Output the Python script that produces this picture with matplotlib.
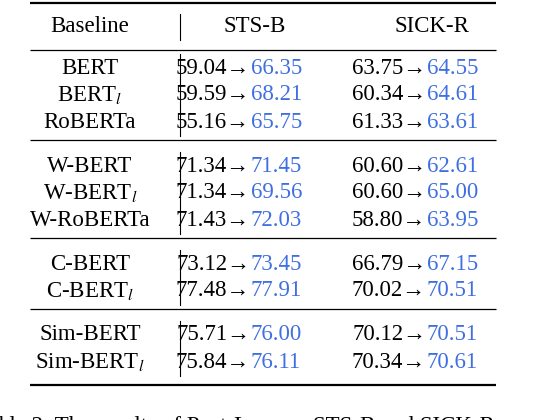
import matplotlib
matplotlib.use("Agg")
import matplotlib.pyplot as plt

plt.rcParams["font.family"] = ["Liberation Serif", "DejaVu Serif"]
plt.rcParams["mathtext.fontset"] = "stix"

groups = [
    ["BERT", r"BERT$_l$", "RoBERTa"],
    ["W-BERT", r"W-BERT$_l$", "W-RoBERTa"],
    ["C-BERT", r"C-BERT$_l$"],
    ["Sim-BERT", r"Sim-BERT$_l$"],
]
sts_before = [[59.04, 59.59, 55.16], [71.34, 71.34, 71.43], [73.12, 77.48], [75.71, 75.84]]
sts_after = [[66.35, 68.21, 65.75], [71.45, 69.56, 72.03], [73.45, 77.91], [76.00, 76.11]]
sick_before = [[63.75, 60.34, 61.33], [60.60, 60.60, 58.80], [66.79, 70.02], [70.12, 70.34]]
sick_after = [[64.55, 64.61, 63.61], [62.61, 65.00, 63.95], [67.15, 70.51], [70.51, 70.61]]

W, H = 546, 420
fig = plt.figure(figsize=(W / 100, H / 100), dpi=100)
ax = fig.add_axes([0, 0, 1, 1])
ax.set_xlim(0, W)
ax.set_ylim(H, 0)
ax.axis("off")

FS = 16.5
BLUE = "#3f6fe0"
L, R = 30, 496

def rule(y, lw):
    ax.plot([L, R], [y, y], color="black", lw=lw, solid_capstyle="butt")

rule(3, 1.6)
ax.text(90, 27, "Baseline", ha="center", va="center", fontsize=FS)
ax.text(255, 27, "STS-B", ha="center", va="center", fontsize=FS)
ax.text(432, 27, "SICK-R", ha="center", va="center", fontsize=FS)
ax.plot([180, 180], [14, 40], color="black", lw=0.8)
rule(50, 0.9)

y = 68
for gi, names in enumerate(groups):
    top = y - 14
    for i, name in enumerate(names):
        ax.text(90, y, name, ha="center", va="center", fontsize=FS)
        ax.text(250, y, f"{sts_before[gi][i]:.2f}" + "\u2192", ha="right", va="center", fontsize=FS)
        ax.text(251, y, f"{sts_after[gi][i]:.2f}", ha="left", va="center", fontsize=FS, color=BLUE)
        ax.text(426, y, f"{sick_before[gi][i]:.2f}" + "\u2192", ha="right", va="center", fontsize=FS)
        ax.text(427, y, f"{sick_after[gi][i]:.2f}", ha="left", va="center", fontsize=FS, color=BLUE)
        y += 27
    ax.plot([180, 180], [top, y - 13], color="black", lw=0.8)
    if gi < len(groups) - 1:
        rule(y - 9, 0.9)
        y += 17
    else:
        rule(y - 4, 1.6)

ax.text(-2, 426, "ble 2: The results of Post-Lens on STS-B and SICK-R", ha="left",
        va="center", fontsize=FS)

fig.savefig("out.png", dpi=100)
